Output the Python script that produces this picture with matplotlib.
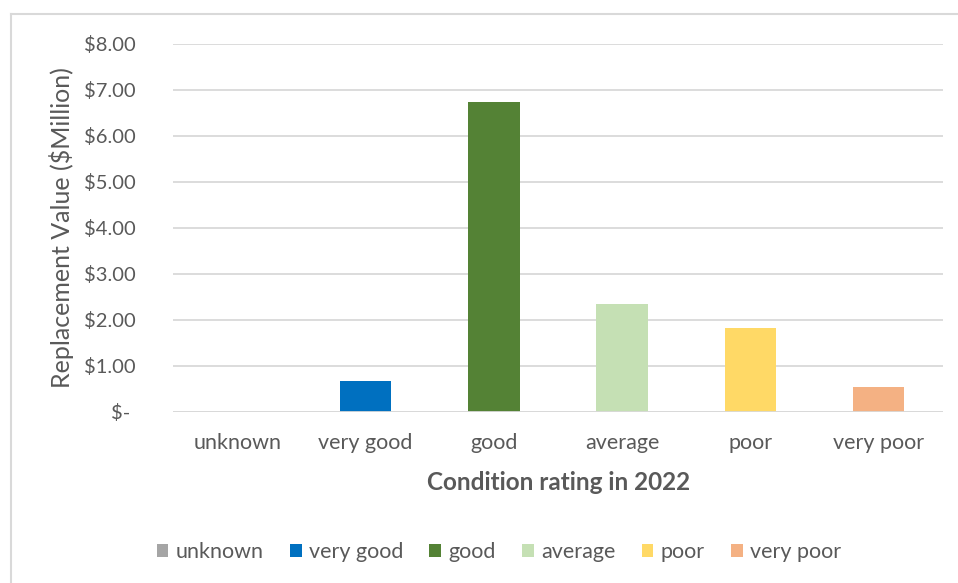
import matplotlib
matplotlib.use("Agg")
import matplotlib.pyplot as plt
from matplotlib.lines import Line2D
from matplotlib.ticker import FixedLocator, FuncFormatter

plt.rcParams["font.family"] = ["Lato", "DejaVu Sans"]

# ── data ─────────────────────────────────────────────
categories = ["unknown", "very good", "good", "average", "poor", "very poor"]
values = [0.0, 0.67, 6.74, 2.34, 1.83, 0.53]
colors = ["#a5a5a5", "#0070c0", "#548235", "#c5e0b4", "#ffd966", "#f4b183"]
y_ticks = [0, 1, 2, 3, 4, 5, 6, 7, 8]

TEXT = "#595959"
GRID = "#d9d9d9"

W, H = 958, 583
fig = plt.figure(figsize=(W / 100, H / 100), dpi=100)
fig.patch.set_facecolor("white")

# plot area in pixels: x 173..943, y 43.7..411.7
ax = fig.add_axes([173 / W, 1 - 411.7 / H, (943 - 173) / W, (411.7 - 43.7) / H])

x = range(len(categories))
bars = ax.bar(x, values, width=0.4, color=colors, zorder=3)

ax.set_xlim(-0.5, len(categories) - 0.5)
ax.set_ylim(0, 8)
ax.yaxis.set_major_locator(FixedLocator(y_ticks))


def money(v, pos):
    if v == 0:
        return "$- "
    return f"${v:.2f}"


ax.yaxis.set_major_formatter(FuncFormatter(money))
ax.set_xticks(list(x))
ax.set_xticklabels(categories)

ax.grid(axis="y", color=GRID, lw=1.3, zorder=0)
for side in ["top", "right", "left", "bottom"]:
    ax.spines[side].set_visible(False)
ax.axhline(0, color=GRID, lw=1.3, zorder=4)

ax.tick_params(axis="both", length=0, labelcolor=TEXT)
ax.tick_params(axis="y", labelsize=14.5, pad=27)
ax.tick_params(axis="x", labelsize=15.5, pad=15)

# axis titles
fig.text(62 / W, 1 - 227.7 / H, "Replacement Value ($Million)", rotation=90,
         ha="center", va="center", fontsize=18, color=TEXT)
fig.text(559 / W, 1 - 482 / H, "Condition rating in 2022", ha="center",
         va="center", fontsize=17.5, fontweight="bold", color=TEXT)

# legend from the bar patches
fig.legend(bars.patches, categories, loc="center", ncol=6,
           bbox_to_anchor=(499 / W, 1 - 552 / H), frameon=False,
           fontsize=15.5, labelcolor=TEXT, handlelength=0.55, handleheight=0.55,
           handletextpad=0.35, columnspacing=1.2)

# chart frame (left and top edges)
fig.add_artist(Line2D([11 / W, 11 / W], [0, 1 - 14 / H], transform=fig.transFigure,
                      color=GRID, lw=1.5))
fig.add_artist(Line2D([11 / W, 1], [1 - 14 / H, 1 - 14 / H], transform=fig.transFigure,
                      color=GRID, lw=1.5))

fig.savefig("out.png", dpi=100, facecolor="white")
